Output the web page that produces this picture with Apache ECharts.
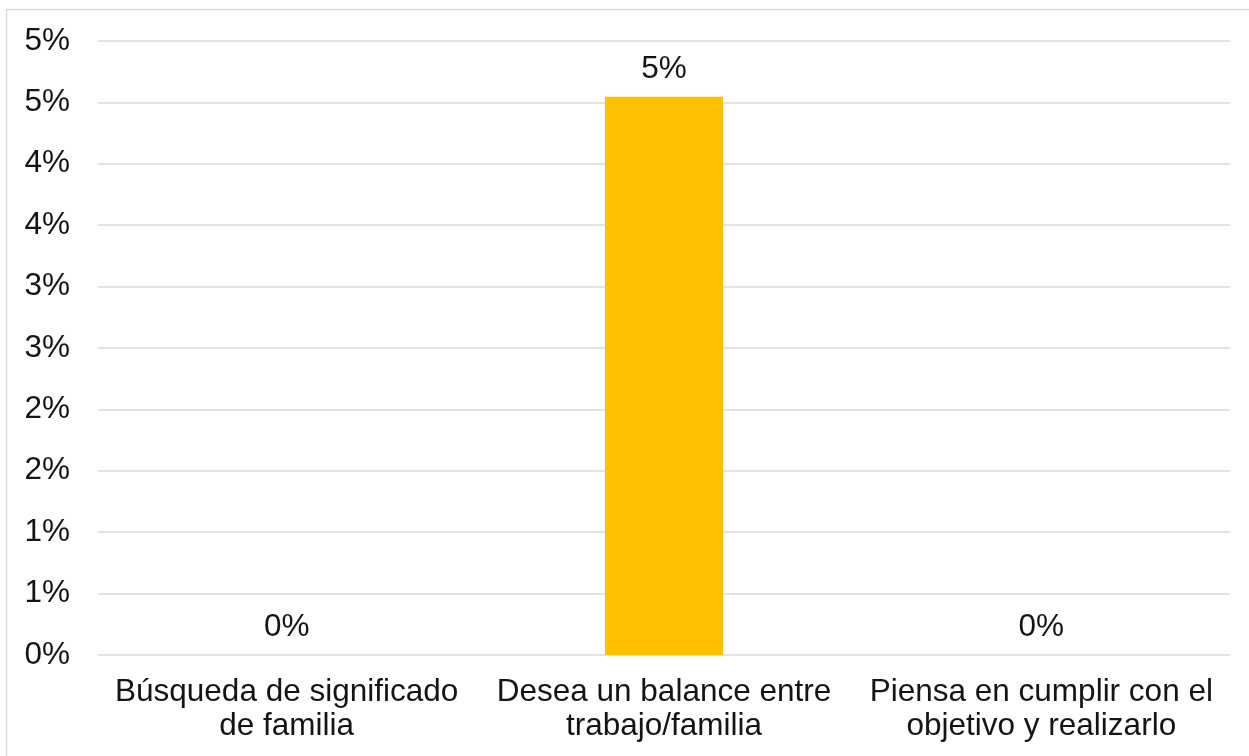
<!DOCTYPE html>
<html>
<head>
<meta charset="utf-8">
<script src="https://cdn.jsdelivr.net/npm/echarts@6/dist/echarts.min.js"></script>
<style>
  html, body { margin: 0; padding: 0; background: #fff; }
  #chart { width: 1249px; height: 756px; }
</style>
</head>
<body>
<div id="chart"></div>
<script>
// Motivations and their share of responses (percent)
const categories = [
  'Búsqueda de significado\nde familia',
  'Desea un balance entre\ntrabajo/familia',
  'Piensa en cumplir con el\nobjetivo y realizarlo'
];
const values = [0, 4.545, 0];
const yTicks = { min: 0, max: 5, interval: 0.5 };

const fontFamily = '"Liberation Sans", Arial, sans-serif';
const textColor = '#141414';
const fontSize = 31.5;

const chart = echarts.init(document.getElementById('chart'), null, { renderer: 'canvas' });
chart.setOption({
  animation: false,
  backgroundColor: '#ffffff',
  graphic: [{
    type: 'rect',
    shape: { x: 6.5, y: 9.5, width: 1260, height: 760 },
    style: { fill: 'none', stroke: '#d9d9d9', lineWidth: 1.5 },
    silent: true,
    z: -1
  }],
  grid: { left: 98, right: 19, top: 41, bottom: 101, containLabel: false },
  xAxis: {
    type: 'category',
    data: categories,
    axisLine: { show: false },
    axisTick: { show: false },
    axisLabel: {
      interval: 0,
      margin: 20,
      color: textColor,
      fontFamily: fontFamily,
      fontSize: fontSize,
      lineHeight: 34
    }
  },
  yAxis: {
    type: 'value',
    min: yTicks.min,
    max: yTicks.max,
    interval: yTicks.interval,
    axisLine: { show: false },
    axisTick: { show: false },
    splitLine: { lineStyle: { color: '#d9d9d9', width: 1.5 } },
    axisLabel: {
      margin: 28,
      color: textColor,
      fontFamily: fontFamily,
      fontSize: fontSize,
      formatter: v => Math.round(v) + '%'
    }
  },
  series: [{
    type: 'bar',
    data: values,
    barWidth: '31.3%',
    itemStyle: { color: '#ffc000' },
    label: {
      show: true,
      position: 'top',
      distance: 12,
      color: textColor,
      fontFamily: fontFamily,
      fontSize: fontSize,
      formatter: p => Math.round(p.value) + '%'
    }
  }]
});
</script>
</body>
</html>
